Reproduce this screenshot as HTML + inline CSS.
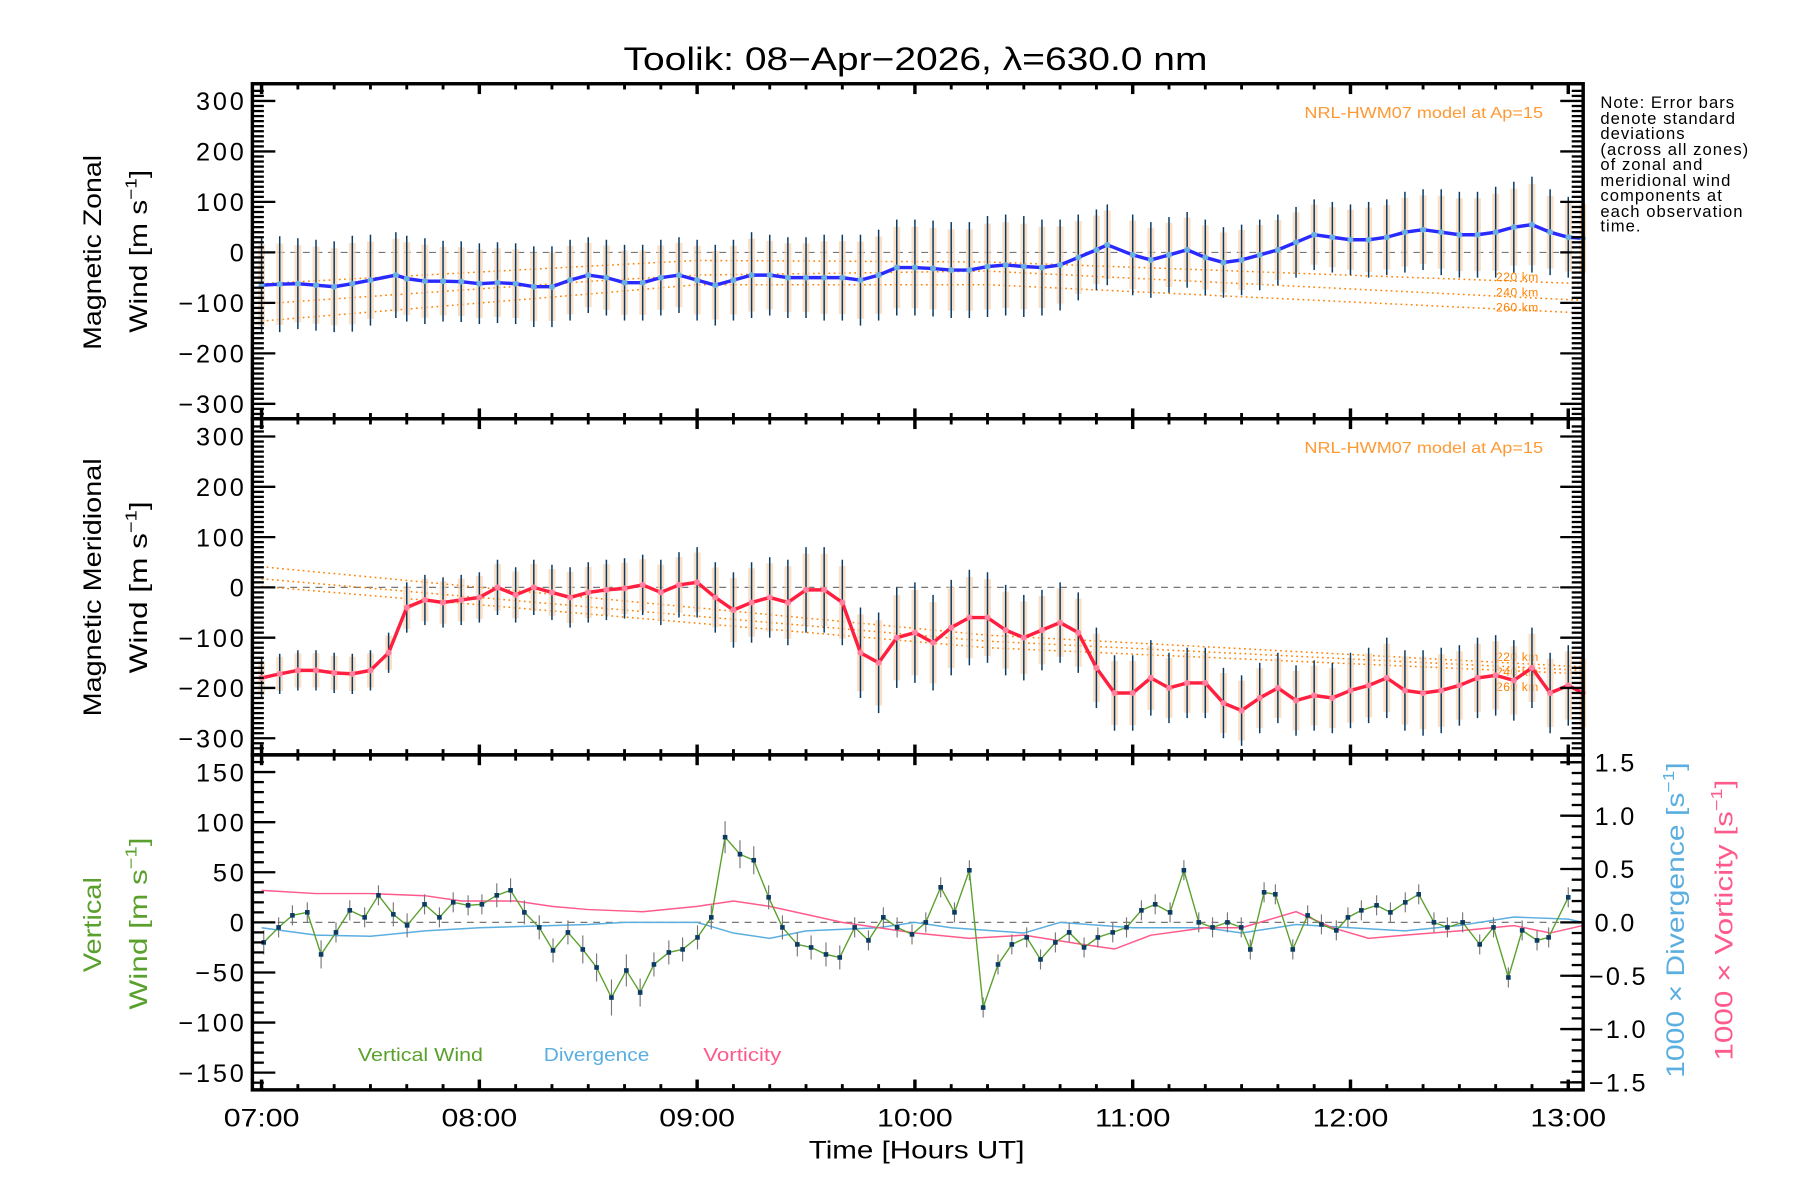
<!DOCTYPE html>
<html><head><meta charset="utf-8"><style>
html,body{margin:0;padding:0;background:#fff}
svg{display:block}
text{font-family:"Liberation Sans",sans-serif}
</style></head><body>
<svg id="chart" width="1800" height="1200" viewBox="0 0 1569 1046" preserveAspectRatio="none" xmlns="http://www.w3.org/2000/svg">
<text x="798" y="61" font-size="28" text-anchor="middle" textLength="509" lengthAdjust="spacingAndGlyphs">Toolik: 08−Apr−2026, λ=630.0 nm</text>
<g id="g"></g>
<text font-size="14.5" letter-spacing="0.9">
<tspan x="1395" y="94">Note: Error bars</tspan><tspan x="1395" y="108">denote standard</tspan><tspan x="1395" y="121">deviations</tspan><tspan x="1395" y="135">(across all zones)</tspan><tspan x="1395" y="148">of zonal and</tspan><tspan x="1395" y="162">meridional wind</tspan><tspan x="1395" y="175">components at</tspan><tspan x="1395" y="189">each observation</tspan><tspan x="1395" y="202">time.</tspan></text>
</svg>
<script>
// ---- data ----
const zonalTimes = [0,5,10,15,20,25,30,37,40,45,50,55,60,65,70,75,80,85,90,95,100,105,110,115,120,125,130,135,140,145,150,155,160,165,170,175,180,185,190,195,200,205,210,215,220,225,230,233,240,245,250,255,260,265,270,275,280,285,290,295,300,305,310,315,320,325,330,335,340,345,350,355,360,364];
const zonalVals = [-65,-63,-62,-65,-68,-62,-55,-45,-52,-57,-57,-58,-62,-60,-62,-68,-68,-55,-45,-50,-60,-60,-50,-45,-55,-65,-55,-45,-45,-50,-50,-50,-50,-55,-45,-30,-30,-32,-35,-35,-28,-25,-28,-30,-25,-10,5,15,-5,-15,-5,5,-10,-20,-15,-5,5,20,35,30,25,25,30,40,45,40,35,35,40,50,55,40,30,28];
const meridTimes = [0,5,10,15,20,25,30,35,40,45,50,55,60,65,70,75,80,85,90,95,100,105,110,115,120,125,130,135,140,145,150,155,160,165,170,175,180,185,190,195,200,205,210,215,220,225,230,235,240,245,250,255,260,265,270,275,280,285,290,295,300,305,310,315,320,325,330,335,340,345,350,355,360,364];
const meridVals = [-180,-172,-165,-165,-170,-172,-165,-130,-40,-25,-30,-25,-20,0,-15,0,-10,-20,-10,-5,-2,5,-10,5,10,-20,-45,-30,-20,-30,-5,-5,-30,-130,-150,-100,-90,-110,-80,-60,-60,-85,-100,-85,-70,-90,-160,-210,-210,-180,-200,-190,-190,-230,-245,-220,-200,-225,-215,-220,-205,-195,-180,-205,-210,-205,-195,-180,-175,-185,-160,-210,-195,-210];
const zonalErr = [95,95,90,90,90,95,90,85,85,85,80,80,80,80,80,80,80,80,75,75,75,75,75,75,80,80,80,85,80,80,80,85,85,90,90,95,95,95,95,95,100,100,100,95,90,85,80,80,80,75,75,75,75,70,70,70,70,70,70,70,70,75,75,80,80,85,85,85,90,90,95,85,80,80];
const meridErr = [40,40,40,40,40,40,40,40,50,50,50,50,50,55,55,55,55,60,60,60,60,60,65,65,70,70,75,80,80,85,85,85,85,90,100,100,100,95,95,95,90,90,85,80,80,80,80,75,75,75,70,70,70,70,70,70,70,70,70,70,75,75,80,80,85,85,80,80,80,80,80,80,80,80];
const vertTimes = [0.6,4.7,8.5,12.6,16.4,20.5,24.3,28.4,32.2,36.3,40.1,44.9,49,52.8,56.9,60.7,64.8,68.6,72.4,76.5,80.3,84.4,88.5,92.3,96.4,100.5,104.3,108.1,112.2,116,120.1,123.9,127.7,131.8,135.6,139.7,143.5,147.6,151.4,155.5,159.3,163.4,167.2,171.3,175.1,179.2,183,187.1,190.9,195,198.8,202.9,206.7,210.8,214.6,218.7,222.5,226.6,230.4,234.5,238.3,242.4,246.2,250.3,254.1,258.2,262,266.1,269.9,272.4,276.2,279.3,284.1,288.2,292,296.1,299.3,303,307.2,311,315.1,318.8,323,326.7,330.9,335.6,339.4,343.5,347.3,351.4,354.6,360];
const vertVals = [-20,-5,7,10,-32,-10,12,5,27,8,-3,18,5,20,17,18,27,32,10,-5,-28,-10,-27,-45,-75,-48,-70,-42,-30,-27,-15,5,85,68,62,25,-5,-22,-25,-32,-35,-5,-18,5,-5,-12,0,35,10,52,-85,-42,-22,-15,-37,-20,-10,-25,-15,-10,-5,12,18,10,52,0,-5,0,-5,-27,30,28,-27,7,-2,-8,5,12,17,10,20,28,0,-5,0,-22,-5,-55,-8,-18,-15,25];
const vertErr = [12,10,10,10,14,10,10,10,10,12,12,10,10,10,10,10,12,12,12,12,12,12,14,14,18,16,14,12,12,12,12,12,16,14,14,12,12,12,12,12,12,10,10,10,10,10,10,10,10,10,10,10,10,10,10,10,10,10,10,10,10,10,10,10,10,10,10,10,10,10,10,10,10,10,10,10,10,10,10,10,10,10,10,10,10,10,10,10,10,10,10,10];
const divTimes = [0,15,30,45,60,90,100,120,130,140,150,170,180,190,210,220,240,260,270,285,300,315,330,345,360,364];
const divVals = [-0.05,-0.12,-0.13,-0.08,-0.05,-0.02,0,0,-0.1,-0.15,-0.08,-0.05,0,-0.05,-0.1,0,-0.05,-0.05,-0.1,-0.02,-0.05,-0.08,-0.03,0.05,0.03,0];
const vortTimes = [0,15,30,45,55,70,80,90,105,120,130,140,160,180,195,210,225,235,245,260,270,285,295,305,315,330,345,355,364];
const vortVals = [0.3,0.27,0.27,0.25,0.2,0.2,0.15,0.12,0.1,0.15,0.2,0.15,0.0,-0.1,-0.15,-0.12,-0.2,-0.25,-0.12,-0.05,-0.05,0.1,-0.05,-0.15,-0.12,-0.08,-0.03,-0.1,-0.03];
const modelLabels = ["220 km","240 km","260 km"];
const zonalModelTimes = [0,91,120,200,364];
const zonalModel220 = [-62,-27,-16,-19,-62];
const zonalModel240 = [-102,-57,-45,-37,-95];
const zonalModel260 = [-136,-82,-64,-64,-120];
const zonalModelLabelVals = [-48,-78,-108];
const meridModelTimes = [0,200,364];
const meridModel220 = [41,-95,-158];
const meridModel240 = [17,-107,-165];
const meridModel260 = [2,-120,-172];
const meridModelLabelVals = [-137,-167,-197];
const yTicks1 = [300,200,100,0,-100,-200,-300];
const yTicks3 = [150,100,50,0,-50,-100,-150];
const yTicksR = ["1.5","1.0","0.5","0.0","-0.5","-1.0","-1.5"];
const hourLabels = ["07:00","08:00","09:00","10:00","11:00","12:00","13:00"];

// ---- geometry ----
const L=220,R=1380;
const X=m=>228+m*(1139/360);
const panels=[{top:73,bot:365,y0:220,k:44/100},{top:365,bot:658,y0:512,k:131.5/300},{top:658,bot:950,y0:804,k:131/150}];
const Y=(p,v)=>panels[p].y0-v*panels[p].k;
const YR=v=>804-v*93;
const g=document.getElementById('g');
const NS='http://www.w3.org/2000/svg';
function el(t,a,parent){const e=document.createElementNS(NS,t);for(const k in a)e.setAttribute(k,a[k]);(parent||g).appendChild(e);return e;}
const fmt=v=>String(v).replace('-','\u2212');

for(let p=0;p<3;p++){
  const z=el('line',{x1:L,x2:R,y1:Y(p,0),y2:Y(p,0),stroke:'#777','stroke-dasharray':'6 5','stroke-width':1});
  
  
}
function modelLines(p,times,sets,labelVals){
  sets.forEach((vals,i)=>{
    const ln=el('polyline',{points:times.map((t,j)=>X(t)+','+Y(p,vals[j])).join(' '),fill:'none',stroke:'#ff8000','stroke-dasharray':'1.5 3','stroke-width':1.3});
    
    
    const t=el('text',{x:1304,y:Y(p,labelVals[i])+4,'font-size':10.5,fill:'#ff8000','letter-spacing':0.5});
    t.textContent=modelLabels[i];
    
    
  });
  const mt=el('text',{x:1137,y:panels[p].top+30,'font-size':14,fill:'#ff9933',textLength:208,lengthAdjust:'spacingAndGlyphs'});
  mt.textContent='NRL-HWM07 model at Ap=15';
  
  
}
modelLines(0,zonalModelTimes,[zonalModel220,zonalModel240,zonalModel260],zonalModelLabelVals);
modelLines(1,meridModelTimes,[meridModel220,meridModel240,meridModel260],meridModelLabelVals);

function series(p,times,vals,errs,color,dot){
  for(let i=0;i<times.length;i++){
    const x=X(times[i]);
    const b=el('rect',{x:x-3,y:Y(p,vals[i]+errs[i]*0.85),width:6,height:errs[i]*1.7*panels[p].k,fill:'#f9d3b0',opacity:0.7});
    
    
    const e=el('line',{x1:x,x2:x,y1:Y(p,vals[i]+errs[i]),y2:Y(p,vals[i]-errs[i]),stroke:'#0b3b63','stroke-width':1.3});
    
    
  }
  const pl=el('polyline',{points:times.map((t,i)=>X(t)+','+Y(p,vals[i])).join(' '),fill:'none',stroke:color,'stroke-width':3});
  
  
  for(let i=0;i<times.length;i++){
    const c=el('circle',{cx:X(times[i]),cy:Y(p,vals[i]),r:2.6,fill:dot});
    
    
  }
}
series(0,zonalTimes,zonalVals,zonalErr,'#2a2aff','#6ab0de');
series(1,meridTimes,meridVals,meridErr,'#ff2040','#ff80a0');

const dl=el('polyline',{points:divTimes.map((t,i)=>X(t)+','+YR(divVals[i])).join(' '),fill:'none',stroke:'#5aaee0','stroke-width':1.3});


const vl=el('polyline',{points:vortTimes.map((t,i)=>X(t)+','+YR(vortVals[i])).join(' '),fill:'none',stroke:'#ff5a8c','stroke-width':1.3});


for(let i=0;i<vertTimes.length;i++){
  const x=X(vertTimes[i]);
  const e=el('line',{x1:x,x2:x,y1:Y(2,vertVals[i]+vertErr[i]),y2:Y(2,vertVals[i]-vertErr[i]),stroke:'#777','stroke-width':1});
  
  
}
const gl=el('polyline',{points:vertTimes.map((t,i)=>X(t)+','+Y(2,vertVals[i])).join(' '),fill:'none',stroke:'#5aa02c','stroke-width':1.2});


for(let i=0;i<vertTimes.length;i++){
  const r=el('rect',{x:X(vertTimes[i])-2,y:Y(2,vertVals[i])-2,width:4,height:4,fill:'#0b3b63'});
  
  
}

for(let p=0;p<3;p++){
  const P=panels[p];
  const f=el('rect',{x:L,y:P.top,width:R-L,height:P.bot-P.top,fill:'none',stroke:'#000','stroke-width':3});
  
  
  for(let m=0;m<=360;m+=10){
    const x=X(m),maj=m%60==0,len=maj?9:5;
    el('line',{x1:x,x2:x,y1:P.bot,y2:P.bot-len,stroke:'#000','stroke-width':maj?3:2.5});
    el('line',{x1:x,x2:x,y1:P.top,y2:P.top+len,stroke:'#000','stroke-width':maj?3:2.5});
  }
  const step=10, max=p==2?150:300;
  for(let v=-max-step*2;v<=max+step*2;v+=step){
    const y=Y(p,v); if(y<P.top+1||y>P.bot-1)continue;
    const maj=v%(p==2?50:100)==0;
    el('line',{x1:L,x2:L+(maj?20:10),y1:y,y2:y,stroke:'#000','stroke-width':2});
    if(p<2) el('line',{x1:R,x2:R-(maj?20:10),y1:y,y2:y,stroke:'#000','stroke-width':2});
  }
  (p==2?yTicks3:yTicks1).forEach(v=>{
    const t=el('text',{x:215,y:Y(p,v)+8,'font-size':22,'text-anchor':'end','letter-spacing':2.5});
    t.textContent=fmt(v);
    
    
  });
}
yTicksR.forEach(s=>{
  const v=parseFloat(s),y=YR(v);
  el('line',{x1:R,x2:R-20,y1:y,y2:y,stroke:'#000','stroke-width':2});
  const t=el('text',{x:s[0]=='-'?1385:1390,y:y+8,'font-size':22,'letter-spacing':2});
  t.textContent=s.replace('-','\u2212');
  
  
});
for(let k=-15;k<=15;k++){el('line',{x1:R,x2:R-10,y1:YR(k/10),y2:YR(k/10),stroke:'#000','stroke-width':2});}
hourLabels.forEach((s,i)=>{
  const t=el('text',{x:X(i*60),y:982,'font-size':22,'text-anchor':'middle',textLength:66,lengthAdjust:'spacingAndGlyphs'});
  t.textContent=s;
  
  
});
const SUP='<tspan font-size="14" dy="-9">−1</tspan><tspan dy="9">]</tspan>';
function rotText(x,y,s,col,name,len){
  const t=el('text',{x:x,y:y,'font-size':22,fill:col,'text-anchor':'middle',transform:`rotate(-90 ${x} ${y})`,textLength:len,lengthAdjust:'spacingAndGlyphs'});
  t.innerHTML=s;
  
  
}
rotText(88,220,'Magnetic Zonal','#000','y-axis-title-zonal',170);
rotText(128,219,'Wind [m s'+SUP,'#000','y-axis-units-zonal',142);
rotText(88,512,'Magnetic Meridional','#000','y-axis-title-meridional',225);
rotText(128,512,'Wind [m s'+SUP,'#000','y-axis-units-meridional',150);
rotText(88,806,'Vertical','#5aa02c','y-axis-title-vertical',83);
rotText(128,805,'Wind [m s'+SUP,'#5aa02c','y-axis-units-vertical',150);
rotText(1468,802,'1000 × Divergence [s'+SUP,'#5aaee0','right-axis-title-divergence',275);
rotText(1510,802,'1000 × Vorticity [s'+SUP,'#ff5a8c','right-axis-title-vorticity',245);
const xt=el('text',{x:799,y:1010,'font-size':22,'text-anchor':'middle',textLength:188,lengthAdjust:'spacingAndGlyphs'});
xt.textContent='Time [Hours UT]';


[['Vertical Wind','#5aa02c',312,109],['Divergence','#5aaee0',474,92],['Vorticity','#ff5a8c',613,68]].forEach(a=>{
  const t=el('text',{x:a[2],y:925,'font-size':16,fill:a[1],textLength:a[3],lengthAdjust:'spacingAndGlyphs'});
  t.textContent=a[0];
  
  
});
</script>
</body></html>
